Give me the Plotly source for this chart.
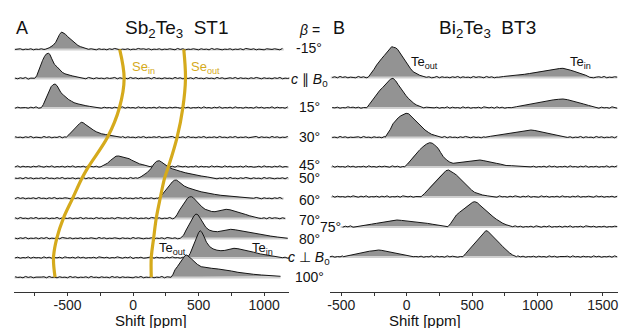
import plotly.graph_objects as go

W, H = 619, 328
PLOT_BOTTOM = 292  # pixel row of the x axes

# ---------------- Panel A : Sb2Te3 ST1 ----------------
A_rows = ["-15", "c||B0", "15", "30", "45", "50", "60", "70", "80", "c_|_B0", "100"]
A_start = [-905] * 11
A_end = [1150, 1200, 1185, 1185, 1190, 1190, 1150, 1165, 1180, 1200, 1125]

A_peaks = {
    "-15": [([-670, -640, -610, -590, -575, -560, -545, -530, -515, -500, -480, -460, -440, -420, -400, -380, -360, -340],
             [0, 1.5, 4, 7, 11, 15, 17.3, 16.5, 15, 12.8, 10.5, 8, 5.5, 3.8, 2.6, 1.8, 1, 0])],
    "c||B0": [([-750, -735, -720, -705, -690, -675, -660, -645, -635, -620, -600, -580, -560, -540, -520, -500, -480, -460, -440, -420, -400, -380],
               [0, 2.5, 8, 13, 18, 22, 24.5, 25, 24, 19.5, 14, 11.5, 8.5, 6, 4.5, 3.5, 3, 2.3, 1.8, 1.2, 0.6, 0])],
    "15": [([-700, -685, -670, -655, -640, -625, -610, -595, -580, -565, -550, -530, -510, -490, -470, -450, -420, -390, -360, -330, -300, -270],
            [0, 3, 8, 13, 17, 21, 23, 23.7, 22, 18, 15, 12.5, 10, 8, 6.5, 5, 3.8, 2.7, 2, 1.3, 0.8, 0])],
    "30": [([-510, -490, -470, -450, -430, -410, -395, -380, -360, -340, -320, -300, -280, -260, -240, -210, -180, -150, -120, -90],
            [0, 2.5, 5.5, 8, 10.5, 13.5, 15, 14.5, 12.5, 10.5, 8.5, 7, 5.5, 4.5, 3.5, 2.8, 2.2, 1.5, 0.8, 0])],
    "45": [([-245, -220, -195, -170, -150, -130, -110, -90, -70, -50, -30, -10, 10, 30, 50, 75, 100, 130],
            [0, 1.5, 3.5, 6.5, 9, 10.5, 10.7, 10, 9.5, 9.2, 8, 6.5, 5, 3.8, 2.8, 2, 1, 0])],
    "50": [([35, 60, 85, 110, 135, 160, 180, 200, 220, 245, 270, 300, 330, 360, 400, 440, 480, 520, 570, 620],
            [0, 1.5, 3.5, 6, 9.5, 14.5, 17, 17.6, 16, 13.5, 11.2, 9.5, 8, 7, 5.5, 4.3, 3.2, 2.3, 1.3, 0])],
    "60": [([190, 215, 240, 260, 280, 300, 315, 330, 345, 365, 390, 420, 450, 480, 520, 570, 620, 670, 720, 780, 840, 920],
            [0, 2.5, 6.6, 10, 13.5, 16.5, 18, 18.3, 17, 14.5, 12.3, 10.5, 9, 8, 6.5, 5, 4, 3, 2.3, 1.6, 1, 0])],
    "70": [([315, 335, 355, 375, 395, 415, 430, 445, 460, 480, 500, 525, 550, 575, 600, 625, 650, 680, 710, 740, 770, 800, 830, 860, 890, 920, 950],
            [0, 3.5, 8.3, 12.5, 17, 20, 21.3, 21.6, 20.5, 17.5, 14.5, 11.5, 9, 7.5, 6.8, 6.6, 7.2, 8.5, 9, 8.5, 7.5, 6.2, 5, 3.8, 2.5, 1.2, 0])],
    "80": [([360, 385, 405, 425, 445, 465, 480, 495, 515, 535, 555, 580, 610, 645, 680, 710, 745, 780, 820, 860, 900, 950, 1000, 1050, 1100, 1150, 1180],
            [0, 3, 8.3, 13, 18.5, 22.5, 24.3, 23.5, 19.5, 14.5, 11, 8.3, 7, 6.6, 7.5, 8.5, 9, 8.5, 7.5, 6.8, 5.8, 4.5, 3.3, 2.2, 1.3, 0.5, 0])],
    "c_|_B0": [([415, 435, 455, 470, 485, 500, 512, 525, 540, 560, 585, 610, 640, 670, 700, 735, 770, 800, 840, 880, 920, 970, 1020, 1070, 1110, 1140],
                [0, 4, 11, 15.5, 20.5, 25, 27, 25.5, 21.5, 15.5, 11, 8.8, 7.5, 7, 7.3, 8.5, 9.4, 9, 8, 6.8, 5.5, 3.8, 2.5, 1.5, 0.7, 0])],
    "100": [([290, 305, 320, 340, 360, 380, 395, 410, 425, 445, 465, 490, 520, 560, 600, 650, 700, 750, 800, 860, 920, 980, 1040, 1100, 1125],
             [0, 3, 7.5, 11, 14.5, 18.5, 21.5, 22.3, 21, 18.5, 16, 13, 10.6, 9.5, 9, 8.3, 7.5, 6.3, 5, 3.8, 3, 2.3, 1.7, 1.2, 1])],
}

# baseline wiggle, one digit per 20 ppm (0..9, 4.5 = baseline)
A_noise = [
    "4563546354 6453745365 4356473546 5364536475 3546354756 4635463546 5374635465 3645374653 5463546375 4635436546 5374635463 4563546354",
    "5364725463 4573645364 7453645375 3645364573 6453746354 5637453645 3746354637 4536453746 3564736453 6475364536 4735463547 3645736453",
    "3645536473 5463547364 5374635463 7453645364 5736453746 3546374536 4653746354 6374536473 5463745364 5374635473 6453746354 5364736453",
    "6453647354 3746354736 4536475364 5374635463 5736453647 3546473546 7354637453 6473546374 5364735463 4573645374 6354736453 4637453645",
    "4736453647 5364735463 6473546375 4635473645 3746354637 5463746354 6375463547 3645374653 7463546374 5346374536 4735463746 5364735463",
    "5463746354 6374536473 5463547364 7354637453 6453746354 5637453647 3546374536 4753647354 6374536475 3645374653 5463746354 6375463547",
    "3746354637 4536473546 5374635463 6453746354 7364536473 5463547364 5374635473 6453746354 5364736453 6475364536 4735463547 3645736453",
    "6374536473 5463547364 4635473645 3746354637 5463746354 6375463547 3645374653 7463546374 5346374536 4735463746 5364735463 4563546354",
    "5364735463 6473546375 4635463546 5374635465 3645374653 5463546375 4635436546 5374635463 4736453647 5364735463 6473546375 4635473645",
    "4635473645 3746354637 5463746354 6375463547 5364725463 4573645364 7453645375 3645364573 6453746354 5637453645 3746354637 4536453746",
    "6453746354 5637453645 3746354637 4536453746 3645536473 5463547364 5374635463 7453645364 5736453746 3546374536 4653746354 6374536473",
]

# Se lines (shift of Se_in / Se_out at each row of panel A)
se_in_ppm = [-102, -68, -104, -195, -340, -390, -461, -532, -582, -607, -595]
se_out_ppm = [387, 400, 380, 336, 270, 240, 207, 177, 157, 139, 139]

# ---------------- Panel B : Bi2Te3 BT3 ----------------
B_rows = ["c||B0", "15", "30", "45", "60", "75", "c_|_B0"]
B_start = [-581, -570, -575, -580, -580, -506, -597]
B_end = [1620] * 7

B_peaks = {
    "c||B0": [([-295, -270, -250, -230, -210, -190, -170, -150, -130, -115, -100, -85, -70, -50, -30, -10, 10, 30, 50, 70, 100, 125, 150],
               [0, 4, 8, 12.3, 16, 19, 22, 25.5, 29, 30.6, 30, 29.5, 28, 24, 19.5, 15.5, 12, 8.5, 5.5, 3.8, 2, 1, 0]),
              ([700, 740, 780, 820, 860, 900, 940, 980, 1020, 1060, 1100, 1140, 1170, 1195, 1220, 1250, 1280, 1310, 1340, 1370, 1400],
               [0, 0.8, 1.2, 1.5, 2.2, 3, 3.8, 4.8, 5.8, 6.8, 7.5, 8.3, 8.8, 9, 8.5, 7.2, 6, 4.8, 3.2, 2, 0])],
    "15": [([-305, -285, -265, -245, -225, -205, -185, -165, -145, -125, -105, -85, -65, -45, -25, -5, 15, 35, 55, 75, 100, 125],
            [0, 3.5, 7, 11, 14.5, 17.5, 20, 22.7, 25.5, 28.5, 29.4, 27, 23, 19, 15.5, 12, 9, 6.5, 4.3, 2.7, 1.2, 0]),
           ([800, 840, 880, 920, 960, 1000, 1040, 1080, 1120, 1160, 1195, 1230, 1270, 1310, 1350, 1390, 1420, 1450],
            [0, 1, 2, 3, 4.3, 5.2, 6.3, 7.2, 7.8, 8.4, 8.7, 8, 6.8, 5.3, 3.8, 2.3, 1.2, 0])],
    "30": [([-165, -145, -125, -105, -85, -65, -45, -25, -5, 15, 35, 55, 75, 95, 115, 140, 165, 190, 215, 235, 255],
            [0, 3.5, 8, 13.5, 17, 19.5, 21.5, 23, 24, 23.5, 21, 18, 15.6, 13, 10, 7.3, 5, 3, 2, 1, 0]),
           ([600, 640, 680, 720, 760, 800, 840, 880, 920, 950, 980, 1020, 1060, 1100, 1140, 1180, 1220],
            [0, 1, 1.8, 2.5, 3.3, 4.2, 5, 6.2, 7, 7.3, 6.8, 5.6, 4.8, 3.6, 2.6, 1.4, 0])],
    "45": [([-15, 5, 25, 50, 75, 100, 125, 150, 175, 195, 215, 240, 260, 280, 305, 330, 355, 380, 410, 440, 470, 500, 530, 560, 590, 620, 650, 685, 720, 760, 800, 850, 900, 940],
            [0, 2.5, 5.5, 10, 13.5, 17, 20, 22.5, 24, 23.5, 21.5, 18.4, 14, 10, 6.7, 4.5, 3.4, 3.8, 4.5, 5, 5, 5.3, 6, 6.7, 6, 5, 4.2, 3.4, 2.5, 1.2, 1, 0.8, 0.5, 0])],
    "60": [([110, 135, 160, 180, 200, 225, 250, 275, 300, 320, 340, 360, 380, 400, 420, 445, 470, 495, 520, 550, 580, 620, 660],
            [0, 3, 6.5, 10, 13, 16.5, 20, 23, 26, 26.7, 25.5, 23.5, 21.7, 19, 16, 13.4, 10, 6.8, 4.3, 2.7, 1.7, 0.8, 0])],
    "75": [([-390, -350, -310, -270, -230, -190, -150, -110, -75, -40, 0, 40, 80, 120, 160, 200, 240, 280, 310],
            [0, 1, 1.8, 2.5, 3.4, 4.3, 5.3, 6.2, 6.7, 6.3, 5.8, 5.5, 5, 4.2, 3.3, 2.4, 1.5, 0.6, 0]),
           ([315, 335, 355, 380, 405, 430, 455, 480, 505, 520, 540, 560, 585, 610, 635, 660, 685, 710, 735, 760, 785, 810],
            [0, 3, 6.5, 11.7, 14.5, 17, 20, 22.5, 24.5, 25, 24, 21.5, 18.4, 15.5, 12.5, 10, 7.5, 5.2, 3.4, 2, 1, 0])],
    "c_|_B0": [([-485, -450, -420, -390, -355, -320, -285, -250, -215, -190, -160, -130, -100, -70, -40, -10, 20, 50],
                [0, 1, 2, 3, 4, 4.8, 5.5, 6, 6.7, 6.3, 5.5, 4.8, 4, 3.4, 2.6, 1.7, 0.8, 0]),
               ([430, 450, 470, 495, 515, 535, 560, 585, 605, 620, 640, 660, 685, 710, 735, 760, 785, 810, 840],
                [0, 3, 6, 10, 13.5, 16.5, 20, 23.5, 26, 25.5, 23, 20, 16.7, 13.5, 10, 6.5, 4, 1.7, 0])],
}

B_noise = [
    "5463746354 3746354637 6453647354 5364735463 4736453647 3645374653 7463546374 5346374536 4563546354 6453745365 4356473546 5364536475",
    "3546354756 4635463546 5374635465 3645374653 4635473645 3746354637 5463746354 6375463547 5364725463 4573645364 7453645375 3645364573",
    "6453746354 5637453645 3746354637 4536453746 5364736453 6475364536 4735463547 3645736453 3645536473 5463547364 5374635463 7453645364",
    "5736453746 3546374536 4653746354 6374536473 6453647354 3746354736 4536475364 5374635463 5463746354 6374536473 5463547364 7354637453",
    "4736453647 5364735463 6473546375 4635473645 6453746354 5637453647 3546374536 4753647354 3746354637 4536473546 5374635463 6453746354",
    "7364536473 5463547364 5374635473 6453746354 6374536473 5463547364 4635473645 3746354637 5364735463 6473546375 4635463546 5374635465",
    "4635473645 3746354637 5463746354 6375463547 3645374653 5463546375 4635436546 5374635463 6453746354 5637453645 3746354637 4536453746",
]

tick_vals_A = [-500, 0, 500, 1000]
minor_vals_A = [-750, -250, 250, 750]
tick_vals_B = [-500, 0, 500, 1000, 1500]
minor_vals_B = [-250, 250, 750, 1250]

# ---------------- layout helpers (positions, styles) ----------------
A_base_px = [49.3, 78.3, 107.7, 137.3, 166.7, 178.3, 198.3, 218.3, 238.3, 257.7, 277.3]
B_base_px = [77.3, 107.7, 137.3, 166.7, 196.7, 226.7, 256.7]

FILL = "#939393"
LINE = "#151515"
BAND = "#cfcfcf"
GOLD = "#D5AA1C"
FONT = "Liberation Sans, Arial, sans-serif"


def yv(px):
    return PLOT_BOTTOM - px


def noise_vals(s):
    s = s.replace(" ", "")
    return [(int(c) - 4.5) * 0.35 for c in s]


def spectrum_points(grid, noise, start, end, segs):
    pts = []
    for g, n in zip(grid, noise):
        if g < start or g > end:
            continue
        if any(sx[0] <= g <= sx[-1] for sx, _ in segs):
            continue
        pts.append((g, n))
    for sx, sy in segs:
        pts += list(zip(sx, sy))
    pts.sort()
    return pts


fig = go.Figure()


def add_panel(rows, bases, starts, ends, peaks, noises, grid, xa):
    for i, r in enumerate(rows):
        off = yv(bases[i])
        segs = peaks[r]
        for sx, sy in segs:
            fig.add_trace(go.Scatter(x=sx, y=[off + h for h in sy], mode="lines", fill="toself",
                                     fillcolor=FILL, line=dict(width=0), xaxis=xa, yaxis="y",
                                     hoverinfo="skip", showlegend=False))
        fig.add_trace(go.Scatter(x=[starts[i], min(ends[i], grid[-1])], y=[off - 0.3, off - 0.3], mode="lines",
                                 line=dict(color=BAND, width=2), xaxis=xa, yaxis="y",
                                 hoverinfo="skip", showlegend=False))
        pts = spectrum_points(grid, noise_vals(noises[i]), starts[i], ends[i], segs)
        fig.add_trace(go.Scatter(x=[p[0] for p in pts], y=[off + p[1] for p in pts], mode="lines",
                                 line=dict(color=LINE, width=1), xaxis=xa, yaxis="y",
                                 hoverinfo="skip", showlegend=False))


A_grid = list(range(-900, 1201, 20))
B_grid = list(range(-590, 1621, 20))
add_panel(A_rows, A_base_px, A_start, A_end, A_peaks, A_noise, A_grid, "x")
add_panel(B_rows, B_base_px, B_start, B_end, B_peaks, B_noise, B_grid, "x2")

# Se guide lines
for vals in (se_in_ppm, se_out_ppm):
    fig.add_trace(go.Scatter(x=vals, y=[yv(p) for p in A_base_px], mode="lines",
                             line=dict(color=GOLD, width=3.2, shape="spline", smoothing=1.0),
                             xaxis="x", yaxis="y", hoverinfo="skip", showlegend=False))

axis_common = dict(showline=True, linecolor="#333333", linewidth=1, ticks="outside", ticklen=3,
                   tickwidth=1, tickcolor="#333333", showgrid=False, zeroline=False,
                   tickfont=dict(family=FONT, size=14, color="#222222"), anchor="y",
                   tickmode="array", fixedrange=True, ticklabelstandoff=-3,
                   ticklabeloverflow="allow")

fig.update_layout(
    width=W, height=H,
    margin=dict(l=0, r=0, t=0, b=H - PLOT_BOTTOM, pad=0),
    paper_bgcolor="white", plot_bgcolor="white",
    showlegend=False,
    xaxis=dict(domain=[11.7 / W, 288.7 / W], range=[-911, 1192],
               tickvals=tick_vals_A, ticktext=[str(v) for v in tick_vals_A],
               minor=dict(tickvals=minor_vals_A, ticks="outside", ticklen=3, tickwidth=1, tickcolor="#333333"),
               **axis_common),
    xaxis2=dict(domain=[329.3 / W, 1.0], range=[-589, 1616],
                tickvals=tick_vals_B, ticktext=[str(v) for v in tick_vals_B],
                minor=dict(tickvals=minor_vals_B, ticks="outside", ticklen=3, tickwidth=1, tickcolor="#333333"),
                **axis_common),
    yaxis=dict(domain=[0, 1], range=[0, PLOT_BOTTOM], visible=False, fixedrange=True),
)


def ann(text, xpx, ypx, size=14, color="#111111", xanchor="center"):
    fig.add_annotation(text=text, x=xpx / W, y=(PLOT_BOTTOM - ypx) / PLOT_BOTTOM, xref="paper", yref="paper",
                       xanchor=xanchor, yanchor="middle", showarrow=False, borderpad=0,
                       font=dict(family=FONT, size=size, color=color))


# panel titles
ann("A", 13, 28, size=18, xanchor="left")
ann("Sb<sub>2</sub>Te<sub>3</sub>  ST1", 176, 29, size=19)
ann("B", 332, 28, size=18, xanchor="left")
ann("Bi<sub>2</sub>Te<sub>3</sub>  BT3", 488, 29, size=19)

# row labels (shared column)
row_texts = ["<i>β</i> =", "-15°", "<i>c</i> ∥ <i>B</i><sub>0</sub>", "15°", "30°", "45°", "50°", "60°",
             "70°", "80°", "<i>c</i> ⊥ <i>B</i><sub>0</sub>", "100°"]
row_ypx = [30, 47.7, 80, 107.5, 137, 164.5, 178.5, 199.5, 219.5, 238.5, 258, 277.3]
for t, y in zip(row_texts, row_ypx):
    ann(t, 308.5, y, size=14)
ann("75°", 330, 226.7, size=14)

# peak labels
ann("Se<sub>in</sub>", 130, 67, size=13, color=GOLD, xanchor="left")
ann("Se<sub>out</sub>", 189, 67, size=13, color=GOLD, xanchor="left")
ann("Te<sub>out</sub>", 157, 248, size=13, xanchor="left")
ann("Te<sub>in</sub>", 250.5, 248, size=13, xanchor="left")
ann("Te<sub>out</sub>", 410, 63, size=13, xanchor="left")
ann("Te<sub>in</sub>", 570, 63, size=13, xanchor="left")

# axis titles
ann("Shift [ppm]", 150, 320.5, size=15)
ann("Shift [ppm]", 425, 320.5, size=15)

fig.write_html("out.html", config={"displayModeBar": False},
               post_script="document.body.style.margin='0';document.body.style.overflow='hidden';")
